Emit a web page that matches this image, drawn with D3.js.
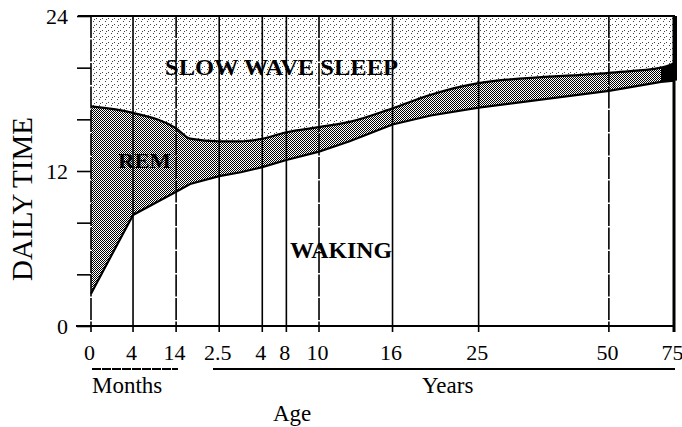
<!DOCTYPE html>
<html>
<head>
<meta charset="utf-8">
<script src="https://cdn.jsdelivr.net/npm/d3@7"></script>
<style>
  html, body { margin: 0; padding: 0; background: #fff; }
  svg { display: block; }
  text { font-family: "Liberation Serif", "DejaVu Serif", serif; fill: #000; }
</style>
</head>
<body>
<svg id="chart" width="682" height="427"></svg>
<script>
// ---------- DATA ----------
// Ages in years at which the axis ticks sit
const tickAges   = [0, 4/12, 14/12, 2.5, 4, 8, 10, 16, 25, 50, 75];
const tickLabels = ["0", "4", "14", "2.5", "4", "8", "10", "16", "25", "50", "75"];
const yTickValues = [0, 4, 8, 12, 16, 20, 24];
const yTickLabels = ["0", "", "", "12", "", "", "24"];

// Ages (years) of the sampled curve points
const ages      = [0, 4/12, 14/12, 1.6, 2.5, 3.25, 4, 8, 10, 12.5, 16, 20, 25, 50, 70, 75];
// Hours awake (boundary waking / REM)
const wakingHrs = [2.5, 8.6, 10.4, 11.0, 11.6, 11.9, 12.3, 12.85, 13.5, 14.3, 15.6, 16.3, 16.9, 18.2, 18.9, 19.0];
// Waking + REM hours (boundary REM / slow wave sleep)
const remTopHrs = [17.0, 16.5, 15.3, 14.5, 14.3, 14.3, 14.5, 15.0, 15.4, 15.8, 16.85, 17.9, 18.8, 19.6, 20.0, 20.35];
const totalHrs = 24;

// ---------- LAYOUT ----------
// relative horizontal slot of each tick on the (non-uniform) age axis, 0..1
const tickSlots = [0, 0.0721, 0.1460, 0.2199, 0.2938, 0.3351, 0.3911, 0.5172, 0.6649, 0.8883, 1];
const L = 91, R = 674, T = 16, B = 326;

const svg = d3.select("#chart");

const x = d3.scaleLinear()
  .domain(tickAges)
  .range(tickSlots.map(f => L + f * (R - L)));
const y = d3.scaleLinear().domain([0, 24]).range([B, T]);

const pts = ages.map((a, i) => ({age: a, wake: wakingHrs[i], rem: remTopHrs[i]}));

// patterns
const defs = svg.append("defs");
const pSws = defs.append("pattern").attr("id", "sws").attr("patternUnits", "userSpaceOnUse")
  .attr("width", 6).attr("height", 6);
pSws.append("rect").attr("width", 6).attr("height", 6).attr("fill", "#fff");
[[0,0],[3,3],[4,1]].forEach(([a,b]) =>
  pSws.append("rect").attr("x", a).attr("y", b).attr("width", 1).attr("height", 1)
    .attr("fill", "#444").attr("shape-rendering", "crispEdges"));

const pRem = defs.append("pattern").attr("id", "rem").attr("patternUnits", "userSpaceOnUse")
  .attr("width", 2).attr("height", 2);
pRem.append("rect").attr("width", 2).attr("height", 2).attr("fill", "#fff");
[[0,0],[1,1]].forEach(([a,b]) =>
  pRem.append("rect").attr("x", a).attr("y", b).attr("width", 1).attr("height", 1)
    .attr("fill", "#000").attr("shape-rendering", "crispEdges"));

const remCurve = d3.curveMonotoneX;
const wakeCurve = d3.curveLinear;

// slow wave sleep area (above REM top boundary)
svg.append("path").datum(pts)
  .attr("d", d3.area().curve(remCurve).x(d => x(d.age)).y0(d => y(d.rem)).y1(y(totalHrs)))
  .attr("fill", "url(#sws)");

// REM area: everything below the REM top, later covered by the waking area
svg.append("path").datum(pts)
  .attr("d", d3.area().curve(remCurve).x(d => x(d.age)).y0(y(0)).y1(d => y(d.rem)))
  .attr("fill", "url(#rem)");

// waking area (white)
svg.append("path").datum(pts)
  .attr("d", d3.area().curve(wakeCurve).x(d => x(d.age)).y0(y(0)).y1(d => y(d.wake)))
  .attr("fill", "#fff");

// blackened end of the REM band
svg.append("path").datum(pts.filter(d => d.age >= 70))
  .attr("d", d3.area().x(d => x(d.age)).y0(d => y(d.wake)).y1(d => y(d.rem)))
  .attr("fill", "#000");

// boundary lines
svg.append("path").datum(pts)
  .attr("d", d3.line().curve(wakeCurve).x(d => x(d.age)).y(d => y(d.wake)))
  .attr("fill", "none").attr("stroke", "#000").attr("stroke-width", 2.2);
svg.append("path").datum(pts)
  .attr("d", d3.line().curve(remCurve).x(d => x(d.age)).y(d => y(d.rem)))
  .attr("fill", "none").attr("stroke", "#000").attr("stroke-width", 2.2);

// vertical lines at each age tick
const dashed = new Set([0, 2, 6, 9]);
svg.append("g").selectAll("line").data(tickAges).join("line")
  .attr("x1", d => x(d)).attr("x2", d => x(d))
  .attr("y1", T).attr("y2", B + 6)
  .attr("stroke", "#000")
  .attr("stroke-width", (d, i) => i === tickAges.length - 1 ? 3 : 1.6)
  .attr("stroke-dasharray", (d, i) => dashed.has(i) ? "22,1.5" : null);

// thick right border at the top
svg.append("line").attr("x1", R + 1).attr("x2", R + 1).attr("y1", T).attr("y2", y(19))
  .attr("stroke", "#000").attr("stroke-width", 4);

// top border
svg.append("line").attr("x1", 78).attr("x2", R + 1).attr("y1", T).attr("y2", T)
  .attr("stroke", "#000").attr("stroke-width", 2);

// bottom baseline
svg.append("line").attr("x1", 76).attr("x2", R + 1).attr("y1", B).attr("y2", B)
  .attr("stroke", "#000").attr("stroke-width", 2);

// Y axis (ticks and labels)
const yAxis = d3.axisLeft(y).tickValues(yTickValues)
  .tickFormat((d, i) => yTickLabels[i]).tickSize(14).tickPadding(9);
const gy = svg.append("g").attr("transform", `translate(${L},0)`).call(yAxis);
gy.select(".domain").remove();
gy.selectAll(".tick line").attr("stroke", "#000").attr("stroke-width", 1.6);
gy.selectAll(".tick text").style("font-family", "Liberation Serif, serif")
  .style("font-size", "22px").attr("fill", "#000");

// X axis labels
const xAxis = d3.axisBottom(x).tickValues(tickAges)
  .tickFormat((d, i) => tickLabels[i]).tickSize(0).tickPadding(18);
const gx = svg.append("g").attr("transform", `translate(0,${B})`).call(xAxis);
gx.select(".domain").remove();
gx.selectAll(".tick text").style("font-family", "Liberation Serif, serif")
  .style("font-size", "22px").attr("fill", "#000").attr("dx", "-2");

// Months / Years underlines
svg.append("line").attr("x1", 92).attr("x2", 178).attr("y1", 369).attr("y2", 369)
  .attr("stroke", "#000").attr("stroke-width", 2).attr("stroke-dasharray", "9,1");
svg.append("line").attr("x1", 213).attr("x2", 675).attr("y1", 369).attr("y2", 369)
  .attr("stroke", "#000").attr("stroke-width", 1.8);

svg.append("text").attr("x", 92).attr("y", 393).style("font-size", "23px").text("Months");
svg.append("text").attr("x", 422).attr("y", 393).style("font-size", "23px").text("Years");
svg.append("text").attr("x", 273).attr("y", 421).style("font-size", "23px").text("Age");

// Y axis title
svg.append("text").attr("transform", "translate(32,199) rotate(-90)")
  .attr("text-anchor", "middle").style("font-size", "29px").text("DAILY TIME");

// region labels
const lab = (t, x0, yb, w, fs) => svg.append("text").attr("x", x0).attr("y", yb)
  .attr("textLength", w).attr("lengthAdjust", "spacingAndGlyphs")
  .style("font-size", fs + "px").style("font-weight", "bold").text(t);
lab("SLOW WAVE SLEEP", 165, 75, 233, 24);
lab("REM", 118, 168, 53, 22);
lab("WAKING", 290, 258, 102, 23);
</script>
</body>
</html>
